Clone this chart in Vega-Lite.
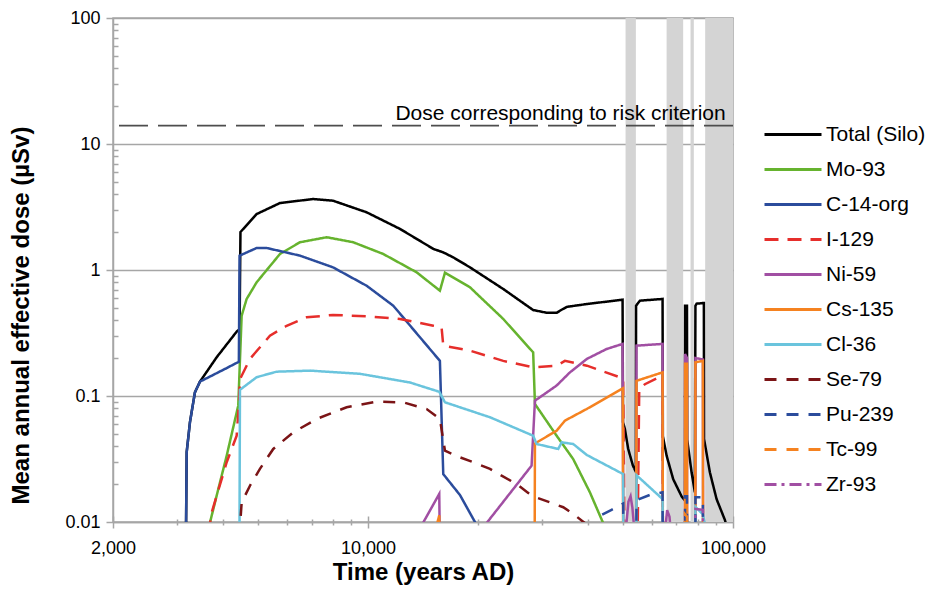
{
  "$schema": "https://vega.github.io/schema/vega-lite/v6.json",
  "width": 620,
  "height": 504,
  "autosize": {"type": "none"},
  "padding": {"left": 113, "top": 18, "right": 200, "bottom": 70},
  "background": "white",
  "datasets": {
    "bands": [
      {"t0": 50770, "t1": 54180},
      {"t0": 65780, "t1": 73020},
      {"t0": 76500, "t1": 78100},
      {"t0": 83900, "t1": 100000}
    ],
    "risk": [
      {"t": 95500, "v": 14, "label": "Dose corresponding to risk criterion"}
    ],
    "dose": [
      {"s": "Total (Silo)", "t": 3165, "v": 0.005},
      {"s": "Total (Silo)", "t": 3184, "v": 0.036},
      {"s": "Total (Silo)", "t": 3250, "v": 0.062},
      {"s": "Total (Silo)", "t": 3354, "v": 0.107},
      {"s": "Total (Silo)", "t": 3462, "v": 0.13},
      {"s": "Total (Silo)", "t": 3847, "v": 0.203},
      {"s": "Total (Silo)", "t": 4364, "v": 0.324},
      {"s": "Total (Silo)", "t": 4445, "v": 0.34},
      {"s": "Total (Silo)", "t": 4470, "v": 2.0},
      {"s": "Total (Silo)", "t": 4504, "v": 2.05},
      {"s": "Total (Silo)", "t": 4951, "v": 2.78},
      {"s": "Total (Silo)", "t": 5735, "v": 3.4},
      {"s": "Total (Silo)", "t": 7076, "v": 3.66},
      {"s": "Total (Silo)", "t": 8012, "v": 3.55},
      {"s": "Total (Silo)", "t": 9910, "v": 2.87},
      {"s": "Total (Silo)", "t": 12226, "v": 2.12},
      {"s": "Total (Silo)", "t": 15100, "v": 1.47},
      {"s": "Total (Silo)", "t": 16070, "v": 1.38},
      {"s": "Total (Silo)", "t": 17110, "v": 1.26},
      {"s": "Total (Silo)", "t": 19020, "v": 1.05},
      {"s": "Total (Silo)", "t": 23460, "v": 0.707},
      {"s": "Total (Silo)", "t": 28340, "v": 0.481},
      {"s": "Total (Silo)", "t": 30860, "v": 0.458},
      {"s": "Total (Silo)", "t": 32900, "v": 0.458},
      {"s": "Total (Silo)", "t": 33920, "v": 0.484},
      {"s": "Total (Silo)", "t": 35070, "v": 0.51},
      {"s": "Total (Silo)", "t": 39780, "v": 0.537},
      {"s": "Total (Silo)", "t": 49820, "v": 0.581},
      {"s": "Total (Silo)", "t": 49950, "v": 0.062},
      {"s": "Total (Silo)", "t": 50540, "v": 0.055},
      {"s": "Total (Silo)", "t": 51620, "v": 0.038},
      {"s": "Total (Silo)", "t": 53180, "v": 0.028},
      {"s": "Total (Silo)", "t": 54180, "v": 0.025},
      {"s": "Total (Silo)", "t": 54250, "v": 0.521},
      {"s": "Total (Silo)", "t": 55580, "v": 0.571},
      {"s": "Total (Silo)", "t": 64120, "v": 0.589},
      {"s": "Total (Silo)", "t": 64240, "v": 0.048},
      {"s": "Total (Silo)", "t": 65780, "v": 0.0336},
      {"s": "Total (Silo)", "t": 68560, "v": 0.0219},
      {"s": "Total (Silo)", "t": 72280, "v": 0.016},
      {"s": "Total (Silo)", "t": 73820, "v": 0.0148},
      {"s": "Total (Silo)", "t": 73900, "v": 0.52},
      {"s": "Total (Silo)", "t": 74800, "v": 0.52},
      {"s": "Total (Silo)", "t": 74900, "v": 0.045},
      {"s": "Total (Silo)", "t": 77000, "v": 0.0248},
      {"s": "Total (Silo)", "t": 78620, "v": 0.0172},
      {"s": "Total (Silo)", "t": 78900, "v": 0.52},
      {"s": "Total (Silo)", "t": 79500, "v": 0.54},
      {"s": "Total (Silo)", "t": 82680, "v": 0.547},
      {"s": "Total (Silo)", "t": 83200, "v": 0.547},
      {"s": "Total (Silo)", "t": 83300, "v": 0.0456},
      {"s": "Total (Silo)", "t": 86420, "v": 0.0248},
      {"s": "Total (Silo)", "t": 90160, "v": 0.0152},
      {"s": "Total (Silo)", "t": 95000, "v": 0.0104},
      {"s": "Total (Silo)", "t": 97500, "v": 0.008},

      {"s": "Mo-93", "t": 3650, "v": 0.008},
      {"s": "Mo-93", "t": 3688, "v": 0.0099},
      {"s": "Mo-93", "t": 3847, "v": 0.0162},
      {"s": "Mo-93", "t": 4098, "v": 0.0336},
      {"s": "Mo-93", "t": 4408, "v": 0.0838},
      {"s": "Mo-93", "t": 4445, "v": 0.16},
      {"s": "Mo-93", "t": 4504, "v": 0.434},
      {"s": "Mo-93", "t": 4648, "v": 0.589},
      {"s": "Mo-93", "t": 4951, "v": 0.799},
      {"s": "Mo-93", "t": 5735, "v": 1.34},
      {"s": "Mo-93", "t": 6506, "v": 1.66},
      {"s": "Mo-93", "t": 7702, "v": 1.82},
      {"s": "Mo-93", "t": 9108, "v": 1.66},
      {"s": "Mo-93", "t": 11004, "v": 1.34},
      {"s": "Mo-93", "t": 13586, "v": 0.959},
      {"s": "Mo-93", "t": 15734, "v": 0.685},
      {"s": "Mo-93", "t": 16244, "v": 0.952},
      {"s": "Mo-93", "t": 19020, "v": 0.729},
      {"s": "Mo-93", "t": 23460, "v": 0.409},
      {"s": "Mo-93", "t": 28340, "v": 0.222},
      {"s": "Mo-93", "t": 28660, "v": 0.0864},
      {"s": "Mo-93", "t": 32860, "v": 0.0484},
      {"s": "Mo-93", "t": 36480, "v": 0.0316},
      {"s": "Mo-93", "t": 40540, "v": 0.0172},
      {"s": "Mo-93", "t": 44080, "v": 0.0098},
      {"s": "Mo-93", "t": 45000, "v": 0.008},

      {"s": "C-14-org", "t": 3165, "v": 0.005},
      {"s": "C-14-org", "t": 3184, "v": 0.0357},
      {"s": "C-14-org", "t": 3250, "v": 0.0618},
      {"s": "C-14-org", "t": 3354, "v": 0.107},
      {"s": "C-14-org", "t": 3462, "v": 0.13},
      {"s": "C-14-org", "t": 4055, "v": 0.164},
      {"s": "C-14-org", "t": 4425, "v": 0.187},
      {"s": "C-14-org", "t": 4445, "v": 1.3},
      {"s": "C-14-org", "t": 4951, "v": 1.495},
      {"s": "C-14-org", "t": 5274, "v": 1.495},
      {"s": "C-14-org", "t": 6506, "v": 1.3},
      {"s": "C-14-org", "t": 8012, "v": 1.05},
      {"s": "C-14-org", "t": 9910, "v": 0.75},
      {"s": "C-14-org", "t": 11722, "v": 0.521},
      {"s": "C-14-org", "t": 15734, "v": 0.19},
      {"s": "C-14-org", "t": 16070, "v": 0.024},
      {"s": "C-14-org", "t": 17850, "v": 0.0164},
      {"s": "C-14-org", "t": 20254, "v": 0.0085},

      {"s": "I-129", "t": 3650, "v": 0.008},
      {"s": "I-129", "t": 3728, "v": 0.0119},
      {"s": "I-129", "t": 4098, "v": 0.0298},
      {"s": "I-129", "t": 4364, "v": 0.0484},
      {"s": "I-129", "t": 4430, "v": 0.0891},
      {"s": "I-129", "t": 4456, "v": 0.136},
      {"s": "I-129", "t": 4746, "v": 0.197},
      {"s": "I-129", "t": 5384, "v": 0.301},
      {"s": "I-129", "t": 5982, "v": 0.361},
      {"s": "I-129", "t": 6788, "v": 0.421},
      {"s": "I-129", "t": 8012, "v": 0.44},
      {"s": "I-129", "t": 9910, "v": 0.429},
      {"s": "I-129", "t": 12226, "v": 0.409},
      {"s": "I-129", "t": 15100, "v": 0.361},
      {"s": "I-129", "t": 15900, "v": 0.351},
      {"s": "I-129", "t": 16070, "v": 0.251},
      {"s": "I-129", "t": 19020, "v": 0.229},
      {"s": "I-129", "t": 23460, "v": 0.19},
      {"s": "I-129", "t": 28340, "v": 0.169},
      {"s": "I-129", "t": 32860, "v": 0.174},
      {"s": "I-129", "t": 34620, "v": 0.19},
      {"s": "I-129", "t": 39780, "v": 0.174},
      {"s": "I-129", "t": 50000, "v": 0.138},
      {"s": "I-129", "t": 50500, "v": 0.005},
      {"s": "I-129", "t": 54700, "v": 0.005},
      {"s": "I-129", "t": 55340, "v": 0.114},
      {"s": "I-129", "t": 57360, "v": 0.124},
      {"s": "I-129", "t": 64000, "v": 0.145},
      {"s": "I-129", "t": 64300, "v": 0.005},

      {"s": "Ni-59", "t": 14000, "v": 0.008},
      {"s": "Ni-59", "t": 14160, "v": 0.0099},
      {"s": "Ni-59", "t": 15670, "v": 0.0167},
      {"s": "Ni-59", "t": 15750, "v": 0.005},
      {"s": "Ni-59", "t": 20800, "v": 0.008},
      {"s": "Ni-59", "t": 21120, "v": 0.0098},
      {"s": "Ni-59", "t": 28060, "v": 0.028},
      {"s": "Ni-59", "t": 28660, "v": 0.0918},
      {"s": "Ni-59", "t": 32860, "v": 0.121},
      {"s": "Ni-59", "t": 35740, "v": 0.154},
      {"s": "Ni-59", "t": 39780, "v": 0.197},
      {"s": "Ni-59", "t": 45040, "v": 0.236},
      {"s": "Ni-59", "t": 49820, "v": 0.259},
      {"s": "Ni-59", "t": 50100, "v": 0.005},
      {"s": "Ni-59", "t": 50900, "v": 0.009},
      {"s": "Ni-59", "t": 51700, "v": 0.0145},
      {"s": "Ni-59", "t": 52400, "v": 0.016},
      {"s": "Ni-59", "t": 53000, "v": 0.013},
      {"s": "Ni-59", "t": 53600, "v": 0.009},
      {"s": "Ni-59", "t": 54300, "v": 0.005},
      {"s": "Ni-59", "t": 54400, "v": 0.251},
      {"s": "Ni-59", "t": 64120, "v": 0.259},
      {"s": "Ni-59", "t": 64240, "v": 0.005},
      {"s": "Ni-59", "t": 65000, "v": 0.008},
      {"s": "Ni-59", "t": 66000, "v": 0.0124},
      {"s": "Ni-59", "t": 67000, "v": 0.011},
      {"s": "Ni-59", "t": 67600, "v": 0.008},
      {"s": "Ni-59", "t": 73850, "v": 0.005},
      {"s": "Ni-59", "t": 73900, "v": 0.215},
      {"s": "Ni-59", "t": 74800, "v": 0.2},
      {"s": "Ni-59", "t": 74850, "v": 0.005},
      {"s": "Ni-59", "t": 78850, "v": 0.005},
      {"s": "Ni-59", "t": 78900, "v": 0.2},
      {"s": "Ni-59", "t": 82700, "v": 0.195},
      {"s": "Ni-59", "t": 82800, "v": 0.005},

      {"s": "Cs-135", "t": 15200, "v": 0.008},
      {"s": "Cs-135", "t": 15670, "v": 0.0113},
      {"s": "Cs-135", "t": 15750, "v": 0.005},
      {"s": "Cs-135", "t": 28600, "v": 0.005},
      {"s": "Cs-135", "t": 28660, "v": 0.042},
      {"s": "Cs-135", "t": 32860, "v": 0.053},
      {"s": "Cs-135", "t": 34620, "v": 0.0637},
      {"s": "Cs-135", "t": 39780, "v": 0.079},
      {"s": "Cs-135", "t": 49900, "v": 0.115},
      {"s": "Cs-135", "t": 50000, "v": 0.005},
      {"s": "Cs-135", "t": 54300, "v": 0.005},
      {"s": "Cs-135", "t": 54400, "v": 0.132},
      {"s": "Cs-135", "t": 64120, "v": 0.154},
      {"s": "Cs-135", "t": 64240, "v": 0.005},
      {"s": "Cs-135", "t": 73850, "v": 0.005},
      {"s": "Cs-135", "t": 73900, "v": 0.18},
      {"s": "Cs-135", "t": 74800, "v": 0.18},
      {"s": "Cs-135", "t": 74850, "v": 0.005},
      {"s": "Cs-135", "t": 78850, "v": 0.005},
      {"s": "Cs-135", "t": 78900, "v": 0.185},
      {"s": "Cs-135", "t": 82700, "v": 0.19},
      {"s": "Cs-135", "t": 82800, "v": 0.005},

      {"s": "Cl-36", "t": 4440, "v": 0.005},
      {"s": "Cl-36", "t": 4456, "v": 0.112},
      {"s": "Cl-36", "t": 4951, "v": 0.141},
      {"s": "Cl-36", "t": 5618, "v": 0.156},
      {"s": "Cl-36", "t": 6930, "v": 0.159},
      {"s": "Cl-36", "t": 9502, "v": 0.15},
      {"s": "Cl-36", "t": 13024, "v": 0.128},
      {"s": "Cl-36", "t": 15670, "v": 0.108},
      {"s": "Cl-36", "t": 16244, "v": 0.0891},
      {"s": "Cl-36", "t": 17850, "v": 0.0814},
      {"s": "Cl-36", "t": 21580, "v": 0.0678},
      {"s": "Cl-36", "t": 28340, "v": 0.0484},
      {"s": "Cl-36", "t": 28960, "v": 0.0416},
      {"s": "Cl-36", "t": 33200, "v": 0.038},
      {"s": "Cl-36", "t": 33920, "v": 0.0429},
      {"s": "Cl-36", "t": 36480, "v": 0.0416},
      {"s": "Cl-36", "t": 39780, "v": 0.034},
      {"s": "Cl-36", "t": 50000, "v": 0.024},
      {"s": "Cl-36", "t": 50100, "v": 0.005},
      {"s": "Cl-36", "t": 54300, "v": 0.005},
      {"s": "Cl-36", "t": 54400, "v": 0.0235},
      {"s": "Cl-36", "t": 64120, "v": 0.0152},
      {"s": "Cl-36", "t": 64240, "v": 0.005},
      {"s": "Cl-36", "t": 78850, "v": 0.005},
      {"s": "Cl-36", "t": 78900, "v": 0.0132},
      {"s": "Cl-36", "t": 82700, "v": 0.0115},
      {"s": "Cl-36", "t": 84200, "v": 0.009},

      {"s": "Se-79", "t": 4440, "v": 0.005},
      {"s": "Se-79", "t": 4470, "v": 0.0104},
      {"s": "Se-79", "t": 4504, "v": 0.0143},
      {"s": "Se-79", "t": 4746, "v": 0.0194},
      {"s": "Se-79", "t": 5054, "v": 0.0264},
      {"s": "Se-79", "t": 5498, "v": 0.038},
      {"s": "Se-79", "t": 6238, "v": 0.0515},
      {"s": "Se-79", "t": 7228, "v": 0.0657},
      {"s": "Se-79", "t": 8736, "v": 0.0814},
      {"s": "Se-79", "t": 10556, "v": 0.0901},
      {"s": "Se-79", "t": 12484, "v": 0.089},
      {"s": "Se-79", "t": 14474, "v": 0.0788},
      {"s": "Se-79", "t": 15734, "v": 0.0657},
      {"s": "Se-79", "t": 16244, "v": 0.0368},
      {"s": "Se-79", "t": 17850, "v": 0.0326},
      {"s": "Se-79", "t": 19420, "v": 0.0298},
      {"s": "Se-79", "t": 21580, "v": 0.0264},
      {"s": "Se-79", "t": 23220, "v": 0.0233},
      {"s": "Se-79", "t": 25530, "v": 0.02},
      {"s": "Se-79", "t": 27460, "v": 0.017},
      {"s": "Se-79", "t": 29200, "v": 0.0155},
      {"s": "Se-79", "t": 34260, "v": 0.0131},
      {"s": "Se-79", "t": 36480, "v": 0.0116},
      {"s": "Se-79", "t": 39290, "v": 0.0098},
      {"s": "Se-79", "t": 40000, "v": 0.009},

      {"s": "Pu-239", "t": 41500, "v": 0.008},
      {"s": "Pu-239", "t": 43180, "v": 0.0112},
      {"s": "Pu-239", "t": 46480, "v": 0.0125},
      {"s": "Pu-239", "t": 50000, "v": 0.014},
      {"s": "Pu-239", "t": 50100, "v": 0.005},
      {"s": "Pu-239", "t": 54300, "v": 0.005},
      {"s": "Pu-239", "t": 54400, "v": 0.0145},
      {"s": "Pu-239", "t": 55340, "v": 0.0152},
      {"s": "Pu-239", "t": 59200, "v": 0.0164},
      {"s": "Pu-239", "t": 64120, "v": 0.0172},
      {"s": "Pu-239", "t": 64240, "v": 0.005},
      {"s": "Pu-239", "t": 73850, "v": 0.005},
      {"s": "Pu-239", "t": 73900, "v": 0.016},
      {"s": "Pu-239", "t": 74800, "v": 0.016},
      {"s": "Pu-239", "t": 74850, "v": 0.005},
      {"s": "Pu-239", "t": 78850, "v": 0.005},
      {"s": "Pu-239", "t": 78900, "v": 0.0157},
      {"s": "Pu-239", "t": 82700, "v": 0.0157},
      {"s": "Pu-239", "t": 82800, "v": 0.005},

      {"s": "Tc-99", "t": 73850, "v": 0.005},
      {"s": "Tc-99", "t": 73900, "v": 0.0115},
      {"s": "Tc-99", "t": 74800, "v": 0.011},
      {"s": "Tc-99", "t": 74850, "v": 0.005},

      {"s": "Zr-93", "t": 78850, "v": 0.005},
      {"s": "Zr-93", "t": 78900, "v": 0.0127},
      {"s": "Zr-93", "t": 82700, "v": 0.0125},
      {"s": "Zr-93", "t": 82800, "v": 0.005}
    ]
  },
  "layer": [
    {
      "data": {"name": "bands"},
      "mark": {"type": "rect", "color": "#d4d4d4"},
      "encoding": {
        "x": {
          "field": "t0", "type": "quantitative",
          "scale": {"type": "log", "domain": [2000, 100000], "nice": false},
          "axis": {
            "orient": "bottom",
            "values": [2000, 10000, 100000],
            "format": ",",
            "labelFlush": false,
            "labelOverlap": false,
            "title": "Time (years AD)",
            "titleFontSize": 24, "titleFontWeight": "bold", "titlePadding": 3,
            "labelFontSize": 18, "labelPadding": 11,
            "tickSize": 6, "tickColor": "#a6a6a6", "tickWidth": 1.5,
            "domainColor": "#a6a6a6", "domainWidth": 1.5,
            "grid": false
          }
        },
        "x2": {"field": "t1"}
      }
    },
    {
      "data": {"name": "risk"},
      "mark": {"type": "rule", "color": "#4d4d4d", "strokeWidth": 1.8, "strokeDash": [29, 10]},
      "encoding": {
        "y": {
          "field": "v", "type": "quantitative",
          "axis": {
            "orient": "left",
            "values": [0.02, 0.03, 0.04, 0.05, 0.06, 0.07, 0.08, 0.09, 0.2, 0.3, 0.4, 0.5, 0.6, 0.7, 0.8, 0.9, 2, 3, 4, 5, 6, 7, 8, 9, 20, 30, 40, 50, 60, 70, 80, 90],
            "labels": false, "domain": false, "grid": false, "title": null,
            "offset": -5, "tickSize": 5, "tickColor": "#a6a6a6", "tickWidth": 1.5
          }
        }
      }
    },
    {
      "data": {"name": "risk"},
      "mark": {"type": "text", "align": "right", "baseline": "alphabetic", "dy": -6, "fontSize": 21, "font": "Liberation Sans", "color": "#000000"},
      "encoding": {
        "x": {
          "field": "t", "type": "quantitative",
          "axis": {
            "orient": "bottom",
            "values": [2000, 10000, 100000],
            "labels": false, "domain": false, "grid": false, "title": null,
            "offset": -6, "tickSize": 6, "tickColor": "#a6a6a6", "tickWidth": 1.5
          }
        },
        "y": {"field": "v", "type": "quantitative", "axis": null},
        "text": {"field": "label"}
      }
    },
    {
      "data": {"name": "dose"},
      "mark": {"type": "line", "strokeWidth": 2.5, "clip": true, "interpolate": "linear"},
      "encoding": {
        "x": {
          "field": "t", "type": "quantitative",
          "scale": {"type": "log", "domain": [2000, 100000], "nice": false},
          "axis": {
            "orient": "bottom",
            "values": [3000, 4000, 5000, 6000, 7000, 8000, 9000, 20000, 30000, 40000, 50000, 60000, 70000, 80000, 90000],
            "labels": false, "domain": false, "grid": false, "title": null,
            "offset": -3, "tickSize": 6, "tickColor": "#a6a6a6", "tickWidth": 1.5
          }
        },
        "y": {
          "field": "v", "type": "quantitative",
          "scale": {"type": "log", "domain": [0.01, 100], "nice": false},
          "axis": {
            "orient": "left",
            "values": [0.01, 0.1, 1, 10, 100],
            "format": "~g",
            "title": "Mean annual effective dose (µSv)",
            "titleFontSize": 24, "titleFontWeight": "bold", "titlePadding": 31,
            "titleY": 297,
            "labelFontSize": 18, "labelPadding": 6,
            "tickSize": 7, "tickColor": "#a6a6a6", "tickWidth": 1.5,
            "domainColor": "#a6a6a6", "domainWidth": 1.5,
            "grid": true, "gridColor": "#a6a6a6", "gridWidth": 1.5
          }
        },
        "color": {
          "field": "s", "type": "nominal",
          "scale": {
            "domain": ["Total (Silo)", "Mo-93", "C-14-org", "I-129", "Ni-59", "Cs-135", "Cl-36", "Se-79", "Pu-239", "Tc-99", "Zr-93"],
            "range": ["#000000", "#66b32e", "#2b4c9c", "#e62e2b", "#a14fa3", "#f58220", "#6ac4dd", "#7b1416", "#2b4c9c", "#f58220", "#a14fa3"]
          },
          "legend": {"title": null}
        },
        "strokeDash": {
          "field": "s", "type": "nominal",
          "scale": {
            "domain": ["Total (Silo)", "Mo-93", "C-14-org", "I-129", "Ni-59", "Cs-135", "Cl-36", "Se-79", "Pu-239", "Tc-99", "Zr-93"],
            "range": [[1, 0], [1, 0], [1, 0], [14, 9], [1, 0], [1, 0], [1, 0], [12, 10], [12, 10], [12, 10], [12, 5, 3, 5]]
          },
          "legend": {"title": null}
        }
      }
    }
  ],
  "resolve": {"axis": {"x": "independent", "y": "independent"}},
  "config": {
    "view": {"stroke": "#a6a6a6", "strokeWidth": 1.5},
    "font": "Liberation Sans",
    "axis": {"labelFont": "Liberation Sans", "titleFont": "Liberation Sans", "labelColor": "#000000", "titleColor": "#000000"},
    "legend": {
      "orient": "none",
      "legendX": 650,
      "legendY": 106,
      "padding": 0,
      "symbolType": "stroke",
      "symbolSize": 3249,
      "symbolStrokeWidth": 3,
      "symbolOffset": 0,
      "labelFontSize": 21,
      "labelFont": "Liberation Sans",
      "labelColor": "#000000",
      "labelOffset": 3,
      "clipHeight": 21,
      "rowPadding": 13,
      "labelLimit": 200
    }
  }
}
